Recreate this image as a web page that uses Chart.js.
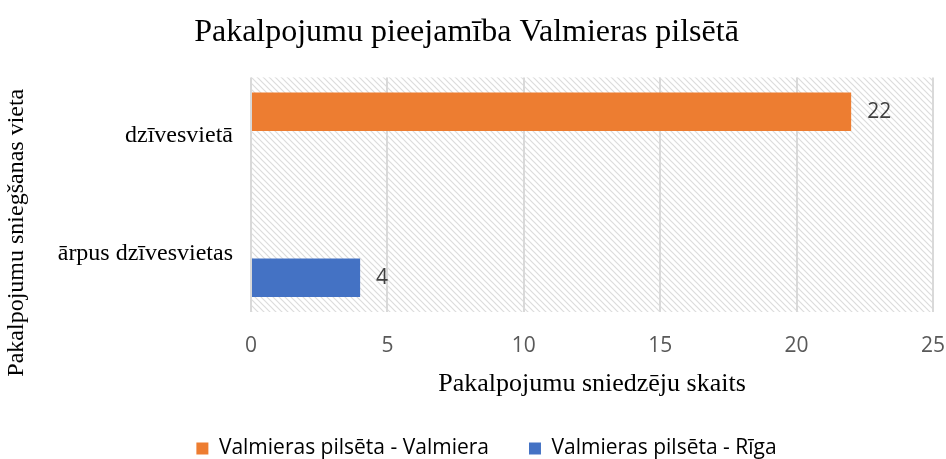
<!DOCTYPE html>
<html>
<head>
<meta charset="utf-8">
<script src="https://cdn.jsdelivr.net/npm/chart.js@4"></script>
<style>
  body { margin: 0; background: #fff; }
  #wrap { width: 946px; height: 459px; }
</style>
</head>
<body>
<div id="wrap"><canvas id="chart" width="946" height="459"></canvas></div>
<script>
// chart data
const categories = ['dzīvesvietā', 'ārpus dzīvesvietas'];
const valmieraValues = [22, null];
const rigaValues = [null, 4];
const seriesNames = ['Valmieras pilsēta - Valmiera', 'Valmieras pilsēta - Rīga'];
const xTicks = [0, 5, 10, 15, 20, 25];
const yTitle = 'Pakalpojumu sniegšanas vieta';

// light diagonal hatch for the plot area
function makeHatch() {
  const c = document.createElement('canvas');
  c.width = 6; c.height = 6;
  const g = c.getContext('2d');
  g.strokeStyle = '#dcdcdc';
  g.lineWidth = 1.2;
  g.beginPath();
  g.moveTo(-1, -1); g.lineTo(7, 7);
  g.moveTo(-4, 2); g.lineTo(4, 10);
  g.moveTo(2, -4); g.lineTo(10, 4);
  g.stroke();
  return g.createPattern(c, 'repeat');
}

const hatchPlugin = {
  id: 'hatch',
  beforeDraw(chart) {
    const a = chart.chartArea;
    const ctx = chart.ctx;
    ctx.save();
    ctx.fillStyle = makeHatch();
    ctx.fillRect(a.left, a.top, a.right - a.left, a.bottom - a.top);
    ctx.restore();
  }
};

// legend sits a little right of centre in the original
const legendShift = {
  id: 'legendShift',
  afterLayout(chart) {
    chart.legend.left += 20;
    chart.legend.right += 20;
  }
};

// y axis title is placed lower than the plot centre in the original
const yTitlePlugin = {
  id: 'yTitle',
  afterDraw(chart) {
    const ctx = chart.ctx;
    const a = chart.chartArea;
    ctx.save();
    ctx.translate(17, (a.top + a.bottom) / 2 + 38);
    ctx.rotate(-Math.PI / 2);
    ctx.font = '24px "Liberation Serif", serif';
    ctx.fillStyle = '#000';
    ctx.textAlign = 'center';
    ctx.textBaseline = 'middle';
    ctx.fillText(yTitle, 0, 0);
    ctx.restore();
  }
};

// value labels to the right of each bar
const valueLabels = {
  id: 'valueLabels',
  afterDatasetsDraw(chart) {
    const ctx = chart.ctx;
    ctx.save();
    ctx.font = '21px "Open Sans", "Liberation Sans", sans-serif';
    ctx.fillStyle = '#404040';
    ctx.textAlign = 'left';
    ctx.textBaseline = 'middle';
    chart.data.datasets.forEach((ds, i) => {
      chart.getDatasetMeta(i).data.forEach((bar, j) => {
        if (ds.data[j] == null) return;
        ctx.fillText(String(ds.data[j]), bar.x + 16, bar.y);
      });
    });
    ctx.restore();
  }
};

new Chart(document.getElementById('chart').getContext('2d'), {
  type: 'bar',
  data: {
    labels: categories,
    datasets: [
      { label: seriesNames[0], data: valmieraValues, backgroundColor: '#ed7d31' },
      { label: seriesNames[1], data: rigaValues, backgroundColor: '#4472c4' }
    ]
  },
  options: {
    indexAxis: 'y',
    responsive: false,
    animation: false,
    categoryPercentage: 0.83,
    barPercentage: 0.79,
    layout: { padding: { right: 13, bottom: -10 } },
    plugins: {
      title: {
        display: true,
        text: 'Pakalpojumu pieejamība Valmieras pilsētā',
        color: '#000',
        font: { family: '"Liberation Serif", serif', size: 32, weight: 'normal' },
        padding: { top: 13, bottom: 26 }
      },
      legend: {
        position: 'bottom',
        labels: {
          color: '#000',
          boxWidth: 12,
          boxHeight: 12,
          padding: 40,
          font: { family: '"Open Sans", "Liberation Sans", sans-serif', size: 21, lineHeight: 1 }
        }
      },
      tooltip: { enabled: false }
    },
    scales: {
      x: {
        min: 0,
        max: 25,
        afterBuildTicks(axis) { axis.ticks = xTicks.map(v => ({ value: v })); },
        afterFit(axis) { axis.height = 86; axis.paddingLeft = 0; axis.paddingRight = 0; },
        grid: { color: '#d9d9d9', lineWidth: 2, drawTicks: false },
        border: { display: false },
        ticks: {
          color: '#595959',
          padding: 21,
          font: { family: '"Open Sans", "Liberation Sans", sans-serif', size: 21 }
        },
        title: {
          display: true,
          text: 'Pakalpojumu sniedzēju skaits',
          color: '#000',
          font: { family: '"Liberation Serif", serif', size: 26 },
          padding: { top: 0, bottom: -2 }
        }
      },
      y: {
        afterFit(axis) { axis.width = 251; },
        grid: { display: false },
        border: { display: false },
        ticks: {
          color: '#000',
          padding: 10,
          font: { family: '"Liberation Serif", serif', size: 24 }
        }
      }
    }
  },
  plugins: [hatchPlugin, legendShift, yTitlePlugin, valueLabels]
});
</script>
</body>
</html>
